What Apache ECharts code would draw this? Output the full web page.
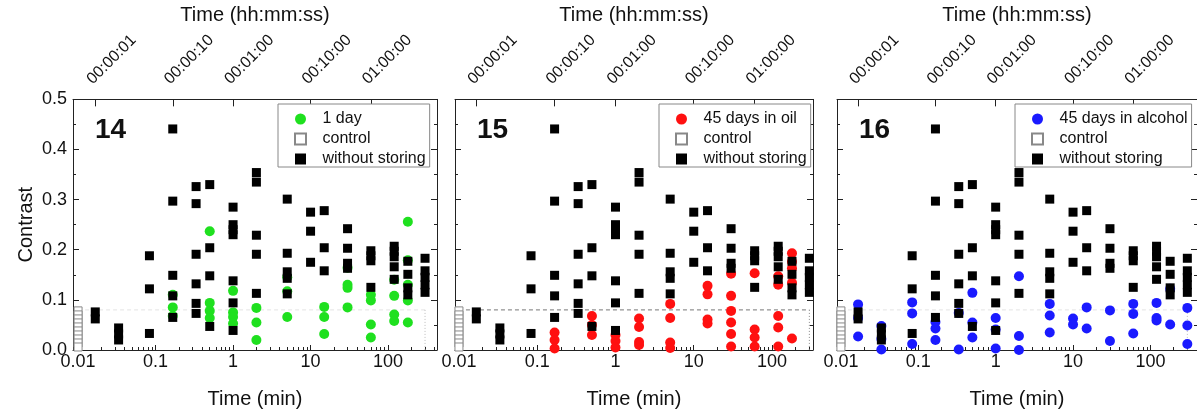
<!DOCTYPE html>
<html><head><meta charset="utf-8">
<script src="https://cdn.jsdelivr.net/npm/echarts@6/dist/echarts.min.js"></script>
<style>html,body{margin:0;padding:0;background:#fff}#c{width:1197px;height:414px}</style>
</head><body><div id="c"></div>
<script>
// ---------- data ----------
const TIMES_MIN = [1/60, 2/60, 5/60, 10/60, 20/60, 0.5, 1, 2, 5, 10, 15, 30, 60, 120, 180, 300];
// "without storing" (same in all panels), one list per time
const WITHOUT_STORING = [
  [0.076, 0.062],
  [0.044, 0.032, 0.020],
  [0.188, 0.122, 0.033],
  [0.441, 0.297, 0.149, 0.108, 0.065],
  [0.326, 0.292, 0.191, 0.132, 0.093, 0.073],
  [0.330, 0.204, 0.148, 0.047],
  [0.285, 0.250, 0.240, 0.230, 0.138, 0.094, 0.039],
  [0.354, 0.335, 0.229, 0.191, 0.113],
  [0.301, 0.193, 0.156, 0.143, 0.112],
  [0.275, 0.237, 0.175],
  [0.278, 0.204, 0.158],
  [0.242, 0.203, 0.173, 0.163],
  [0.198, 0.188, 0.178, 0.125],
  [0.207, 0.197, 0.186, 0.166, 0.141],
  [0.177, 0.151, 0.124, 0.110],
  [0.183, 0.158, 0.145, 0.130, 0.115]
];
const CONTROL_TIME = 0.01;
const CONTROL = [0.078, 0.070, 0.062, 0.054, 0.046, 0.038, 0.030, 0.022, 0.014, 0.006];
const ONE_DAY = [
  [], [], [],
  [0.110, 0.085, 0.068],
  [],
  [0.237, 0.094, 0.078, 0.064],
  [0.118, 0.075, 0.066, 0.053],
  [0.084, 0.055, 0.020],
  [0.145, 0.117, 0.066],
  [],
  [0.086, 0.066, 0.032],
  [0.164, 0.130, 0.124, 0.085],
  [0.110, 0.099, 0.051, 0.025],
  [0.140, 0.108, 0.071, 0.058],
  [0.256, 0.179, 0.130, 0.099, 0.055],
  []
];
const OIL_45 = [
  [], [], [],
  [0.035, 0.020, 0.003],
  [],
  [0.068, 0.050, 0.030],
  [0.030, 0.018, 0.005],
  [0.063, 0.046, 0.016, 0.010],
  [0.092, 0.064, 0.015, 0.004],
  [],
  [0.128, 0.111, 0.061, 0.053],
  [0.152, 0.108, 0.078, 0.055, 0.032, 0.007],
  [0.153, 0.041, 0.025, 0.007],
  [0.147, 0.130, 0.068, 0.045, 0.007],
  [0.193, 0.176, 0.163, 0.134, 0.023],
  []
];
const ALCOHOL_45 = [
  [0.091, 0.064, 0.027],
  [0.048, 0.022, 0.001],
  [0.095, 0.073, 0.012],
  [0.056, 0.043, 0.020],
  [0.074, 0.001],
  [0.114, 0.055, 0.025],
  [0.064, 0.041, 0.003],
  [0.147, 0.028, 0.000],
  [0.092, 0.069, 0.035],
  [0.063, 0.051],
  [0.085, 0.043],
  [0.079, 0.018],
  [0.092, 0.072, 0.033],
  [0.094, 0.064, 0.059],
  [0.122, 0.051],
  [0.084, 0.049, 0.012]
];
// control range box [xFrom, xTo, yTop]
const CONTROL_BOX = [0.01, 300, 0.08];
const PANEL_LABELS = ['14', '15', '16'];
const SERIES_NAMES = ['1 day', '45 days in oil', '45 days in alcohol'];
const SERIES_DATA = [ONE_DAY, OIL_45, ALCOHOL_45];
const BOTTOM_TICKS = [0.01, 0.1, 1, 10, 100];
const BOTTOM_TICK_LABELS = ['0.01', '0.1', '1', '10', '100'];
const TOP_TICKS = [1/60, 10/60, 1, 10, 60];
const TOP_TICK_LABELS = ['00:00:01', '00:00:10', '00:01:00', '00:10:00', '01:00:00'];
const Y_TICKS_LABEL_DIGITS = 1;

// ---------- layout ----------
const FONT = 'Liberation Sans, Arial, Helvetica, sans-serif';
const COLORS = ['#1fe01f', '#ff1010', '#1a1aff'];
const PANELS = [
  {left: 73, width: 364, xmin: 0.0086, xmax: 428, legendLeft: 278},
  {left: 455, width: 358, xmin: 0.0089, xmax: 334, legendLeft: 659},
  {left: 837, width: 362, xmin: 0.0089, xmax: 400, legendLeft: 1015}
];
const TOP = 97.5, HEIGHT = 253.5;
const SQUARE_ICON = 'path://M0 0L10 0L10 10L0 10Z';

function flatten(lists) {
  const out = [];
  lists.forEach((ys, i) => ys.forEach(y => out.push([TIMES_MIN[i], y])));
  return out;
}
function nearestLabel(v, ticks, labels) {
  let best = 0, bd = Infinity;
  ticks.forEach((t, i) => { const d = Math.abs(Math.log10(v) - Math.log10(t)); if (d < bd) { bd = d; best = i; } });
  return bd < 0.01 ? labels[best] : '';
}
const MINOR = [];
[0.01, 0.1, 1, 10, 100].forEach(d => { for (let k = 2; k <= 9; k++) MINOR.push(d * k); });

const grid = [], xAxis = [], yAxis = [], series = [], legend = [], title = [];
PANELS.forEach((p, i) => {
  grid.push({left: p.left, top: TOP, width: p.width, height: HEIGHT, containLabel: false});
  const baseX = {type: 'log', logBase: 10, min: p.xmin, max: p.xmax, gridIndex: i,
    splitLine: {show: false}, minorSplitLine: {show: false}};
  xAxis.push(Object.assign({}, baseX, {
    position: 'bottom',
    axisLine: {show: true, onZero: false, lineStyle: {color: '#222', width: 1}},
    axisTick: {show: true, inside: true, length: 5, customValues: BOTTOM_TICKS, lineStyle: {color: '#222'}},
    axisLabel: {show: true, customValues: BOTTOM_TICKS, margin: 3, color: '#111', fontSize: 18, fontFamily: FONT,
      formatter: v => nearestLabel(v, BOTTOM_TICKS, BOTTOM_TICK_LABELS)},
    name: 'Time (min)', nameLocation: 'middle', nameGap: 39,
    nameTextStyle: {fontSize: 20, color: '#111', fontFamily: FONT}
  }));
  xAxis.push(Object.assign({}, baseX, {
    position: 'bottom',
    axisLine: {show: false},
    axisTick: {show: true, inside: true, length: 3, customValues: MINOR, lineStyle: {color: '#222'}},
    axisLabel: {show: false}
  }));
  xAxis.push(Object.assign({}, baseX, {
    position: 'top',
    axisLine: {show: true, onZero: false, lineStyle: {color: '#222', width: 1}},
    axisTick: {show: true, inside: true, length: 7, customValues: TOP_TICKS, lineStyle: {color: '#222'}},
    axisLabel: {show: true, customValues: TOP_TICKS, rotate: -45, margin: 12, verticalAlign: 'bottom',
      color: '#111', fontSize: 16, fontFamily: FONT,
      formatter: v => nearestLabel(v, TOP_TICKS, TOP_TICK_LABELS)},
    name: 'Time (hh:mm:ss)', nameLocation: 'middle', nameGap: 66,
    nameTextStyle: {fontSize: 20, color: '#111', fontFamily: FONT}
  }));
  const baseY = {type: 'value', min: 0, max: 0.5, interval: 0.1, gridIndex: i,
    splitLine: {show: false}, minorSplitLine: {show: false},
    axisLine: {show: true, onZero: false, lineStyle: {color: '#222', width: 1}},
    axisTick: {show: true, inside: true, length: 6, lineStyle: {color: '#222'}},
    minorTick: {show: true, splitNumber: 2, length: 3, lineStyle: {color: '#222'}}};
  yAxis.push(Object.assign({}, baseY, {
    position: 'left',
    axisLabel: {show: i === 0, margin: 6, color: '#111', fontSize: 18, fontFamily: FONT,
      formatter: v => v.toFixed(Y_TICKS_LABEL_DIGITS)},
    name: i === 0 ? 'Contrast' : '', nameLocation: 'middle', nameGap: 37, nameRotate: 90,
    nameTextStyle: {fontSize: 20, color: '#111', fontFamily: FONT}
  }));
  yAxis.push(Object.assign({}, baseY, {position: 'right', axisLabel: {show: false}}));

  const xi = i * 3, yi = i * 2;
  series.push({
    type: 'line', name: 'boxH' + i, xAxisIndex: xi, yAxisIndex: yi, silent: true, z: 1,
    data: [[CONTROL_BOX[0], CONTROL_BOX[2]], [CONTROL_BOX[1], CONTROL_BOX[2]]],
    symbol: 'none', lineStyle: {color: i === 1 ? '#777' : '#e4e4e4', width: 1, type: [4, 3]}
  });
  series.push({
    type: 'line', name: 'boxV' + i, xAxisIndex: xi, yAxisIndex: yi, silent: true, z: 1,
    data: [[CONTROL_BOX[1], CONTROL_BOX[2]], [CONTROL_BOX[1], 0]],
    symbol: 'none', lineStyle: {color: i === 1 ? '#888' : '#bbb', width: 1, type: [1, 2]}
  });
  series.push({
    type: 'scatter', name: SERIES_NAMES[i], xAxisIndex: xi, yAxisIndex: yi, z: 2, clip: false,
    symbol: 'circle', symbolSize: 10, itemStyle: {color: COLORS[i], opacity: 1},
    data: flatten(SERIES_DATA[i])
  });
  series.push({
    type: 'scatter', name: 'control', xAxisIndex: xi, yAxisIndex: yi, z: 3, clip: false,
    symbol: 'rect', symbolSize: 8, itemStyle: {color: '#fff', borderColor: '#888', borderWidth: 1, opacity: 1},
    data: CONTROL.map(y => [CONTROL_TIME, y])
  });
  series.push({
    type: 'scatter', name: 'without storing', xAxisIndex: xi, yAxisIndex: yi, z: 4, clip: false,
    symbol: 'rect', symbolSize: 9, itemStyle: {color: '#000', opacity: 1},
    data: flatten(WITHOUT_STORING)
  });
  legend.push({
    orient: 'vertical', left: p.legendLeft, top: 104, padding: [7, 4, 0, 16],
    itemWidth: 34, itemHeight: 11, itemGap: 4, symbolKeepAspect: true,
    borderColor: '#888', borderWidth: 1, backgroundColor: '#fff',
    textStyle: {fontSize: 16, lineHeight: 16, color: '#111', fontFamily: FONT},
    data: [SERIES_NAMES[i], {name: 'control', icon: SQUARE_ICON}, {name: 'without storing', icon: SQUARE_ICON}],
    selectedMode: false
  });
  title.push({text: PANEL_LABELS[i], left: p.left + 22, top: 116, padding: 0,
    textStyle: {fontSize: 28, fontWeight: 'bold', color: '#111', fontFamily: FONT}});
});

const chart = echarts.init(document.getElementById('c'), null, {renderer: 'canvas'});
chart.setOption({animation: false, backgroundColor: '#fff', title, grid, xAxis, yAxis, series, legend});
</script></body></html>
